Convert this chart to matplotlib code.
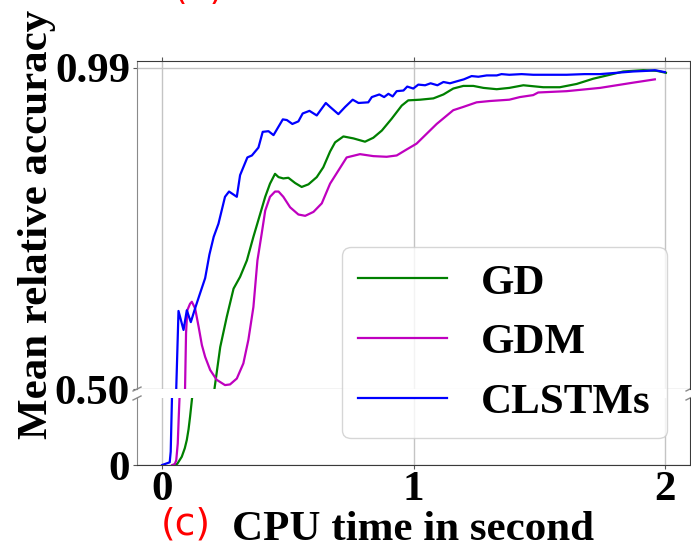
import matplotlib
matplotlib.use("Agg")
import matplotlib.pyplot as plt

plt.rcParams['font.family'] = 'serif'
plt.rcParams['font.serif'] = ['Liberation Serif', 'DejaVu Serif']
plt.rcParams['font.weight'] = 'bold'

# CPU time (s) / mean relative accuracy
gd_t = [0.045, 0.060, 0.078, 0.090, 0.098, 0.105, 0.111, 0.119, 0.208, 0.231,
        0.257, 0.284, 0.310, 0.337, 0.363, 0.390, 0.410, 0.429, 0.449, 0.463,
        0.482, 0.502, 0.529, 0.555, 0.582, 0.615, 0.641, 0.668, 0.688, 0.721,
        0.761, 0.807, 0.840, 0.874, 0.913, 0.953, 0.979, 1.026, 1.079, 1.119,
        1.158, 1.198, 1.238, 1.278, 1.331, 1.381, 1.437, 1.516, 1.582, 1.649,
        1.715, 1.781, 1.834, 1.914, 1.967, 2.004]
gd_v = [0.000, 0.005, 0.037, 0.075, 0.112, 0.160, 0.216, 0.300, 0.500, 0.564,
        0.610, 0.653, 0.671, 0.696, 0.732, 0.767, 0.793, 0.813, 0.828, 0.823,
        0.821, 0.822, 0.814, 0.808, 0.812, 0.823, 0.838, 0.862, 0.876, 0.885,
        0.882, 0.877, 0.883, 0.894, 0.912, 0.932, 0.940, 0.941, 0.943, 0.949,
        0.958, 0.962, 0.962, 0.959, 0.957, 0.959, 0.963, 0.960, 0.960, 0.965,
        0.973, 0.979, 0.984, 0.986, 0.985, 0.982]

gdm_t = [0.040, 0.050, 0.056, 0.062, 0.066, 0.069, 0.091, 0.095, 0.100, 0.111,
         0.118, 0.131, 0.145, 0.158, 0.171, 0.191, 0.217, 0.250, 0.270, 0.297,
         0.323, 0.343, 0.363, 0.379, 0.396, 0.410, 0.429, 0.449, 0.463, 0.482,
         0.509, 0.542, 0.569, 0.602, 0.635, 0.668, 0.701, 0.734, 0.787, 0.840,
         0.893, 0.933, 0.972, 1.012, 1.052, 1.092, 1.158, 1.198, 1.251, 1.304,
         1.381, 1.423, 1.476, 1.496, 1.609, 1.742, 1.874, 1.960]
gdm_v = [0.000, 0.004, 0.021, 0.096, 0.216, 0.300, 0.500, 0.585, 0.620, 0.630,
         0.633, 0.623, 0.595, 0.567, 0.549, 0.529, 0.514, 0.506, 0.507, 0.516,
         0.539, 0.575, 0.625, 0.696, 0.737, 0.772, 0.793, 0.801, 0.801, 0.793,
         0.777, 0.766, 0.764, 0.770, 0.783, 0.813, 0.833, 0.853, 0.858, 0.855,
         0.854, 0.856, 0.865, 0.874, 0.889, 0.904, 0.925, 0.930, 0.937, 0.939,
         0.941, 0.945, 0.948, 0.952, 0.954, 0.959, 0.967, 0.972]

clstm_t = [0.000, 0.030, 0.034, 0.039, 0.056, 0.065, 0.085, 0.098, 0.114, 0.131,
           0.150, 0.171, 0.188, 0.205, 0.224, 0.250, 0.266, 0.297, 0.310, 0.339,
           0.357, 0.383, 0.400, 0.423, 0.443, 0.480, 0.496, 0.518, 0.542, 0.559,
           0.586, 0.615, 0.651, 0.668, 0.701, 0.728, 0.758, 0.781, 0.820, 0.834,
           0.864, 0.883, 0.900, 0.917, 0.933, 0.960, 0.975, 0.999, 1.019, 1.046,
           1.068, 1.095, 1.119, 1.145, 1.172, 1.200, 1.231, 1.258, 1.291, 1.331,
           1.350, 1.381, 1.430, 1.476, 1.540, 1.609, 1.680, 1.742, 1.808, 1.874,
           1.930, 1.960, 2.000]
clstm_v = [0.000, 0.012, 0.060, 0.300, 0.500, 0.619, 0.590, 0.620, 0.602, 0.623,
           0.645, 0.669, 0.705, 0.732, 0.752, 0.793, 0.801, 0.793, 0.826, 0.853,
           0.856, 0.868, 0.892, 0.893, 0.887, 0.911, 0.910, 0.904, 0.908, 0.920,
           0.924, 0.917, 0.936, 0.930, 0.919, 0.930, 0.941, 0.936, 0.937, 0.945,
           0.949, 0.945, 0.950, 0.946, 0.954, 0.955, 0.961, 0.958, 0.964, 0.963,
           0.966, 0.963, 0.968, 0.966, 0.969, 0.972, 0.977, 0.976, 0.978, 0.978,
           0.980, 0.979, 0.980, 0.979, 0.979, 0.979, 0.980, 0.980, 0.982, 0.984,
           0.985, 0.986, 0.983]

series = [('GD', gd_t, gd_v, 'green'),
          ('GDM', gdm_t, gdm_v, 'm'),
          ('CLSTMs', clstm_t, clstm_v, 'blue')]

fig = plt.figure(figsize=(6.91, 5.47), dpi=100)
ax1 = fig.add_axes([0.1983, 0.2888, 0.8003, 0.5997])   # upper part 0.5 .. 1
ax2 = fig.add_axes([0.1983, 0.1499, 0.8003, 0.1225])   # lower part 0 .. 0.3

for name, t, v, c in series:
    ax1.plot(t, v, color=c, lw=1.6, label=name)
    ax2.plot(t, v, color=c, lw=1.6)

ax1.set_ylim(0.5, 1.0)
ax2.set_ylim(0, 0.3)
for ax in (ax1, ax2):
    ax.set_xlim(-0.1, 2.1)
    ax.set_xticks([0, 1, 2])
    ax.grid(True, color='#c4c4c4', lw=1)
    for s in ax.spines.values():
        s.set_color('#3a3a3a')
    ax.spines['left'].set_color('#8a8a8a')
    ax.tick_params(labelsize=31, length=3, pad=2, colors='#555555', labelcolor='black')

ax1.set_yticks([0.5, 0.99])
ax1.set_yticklabels(['0.50', '0.99'])
ax1.spines['bottom'].set_visible(False)
ax1.xaxis.tick_top()
ax1.tick_params(labeltop=False)

ax2.set_yticks([0])
ax2.set_yticklabels(['0'])
ax2.spines['top'].set_visible(False)
ax2.tick_params(axis='x', pad=1)

# break marks
dx, dy1, dy2 = 0.0072, 0.006, 0.03
kw = dict(color='#8a8a8a', lw=1, clip_on=False)
ax1.plot((-dx, dx), (-dy1, dy1), transform=ax1.transAxes, **kw)
ax1.plot((1 - dx, 1 + dx), (-dy1, dy1), transform=ax1.transAxes, **kw)
ax2.plot((-dx, dx), (1 - dy2, 1 + dy2), transform=ax2.transAxes, **kw)
ax2.plot((1 - dx, 1 + dx), (1 - dy2, 1 + dy2), transform=ax2.transAxes, **kw)

h, l = ax1.get_legend_handles_labels()
fig.legend(h, l, loc='upper left', bbox_to_anchor=(342 / 691, 1 - 247 / 547),
           borderaxespad=0, fontsize=31, handlelength=2.05, handletextpad=0.8,
           labelspacing=0.48, borderpad=0.38, framealpha=0.8, edgecolor='#cccccc')

fig.text(37 / 691, 0.589, 'Mean relative accuracy', rotation=90, fontsize=31,
         ha='center', va='center')
fig.text(413.5 / 691, 1 - 540 / 547, 'CPU time in second', fontsize=31,
         ha='center', va='baseline')
fig.text(186 / 691, 1 - 535 / 547, '(c)', fontsize=27, color='red',
         family='DejaVu Sans', weight='normal', ha='center', va='baseline')
fig.text(199 / 691, 1.0024, '(b)', fontsize=25, color='red',
         family='DejaVu Sans', weight='normal', ha='center', va='baseline')

fig.savefig('out.png', dpi=100)
